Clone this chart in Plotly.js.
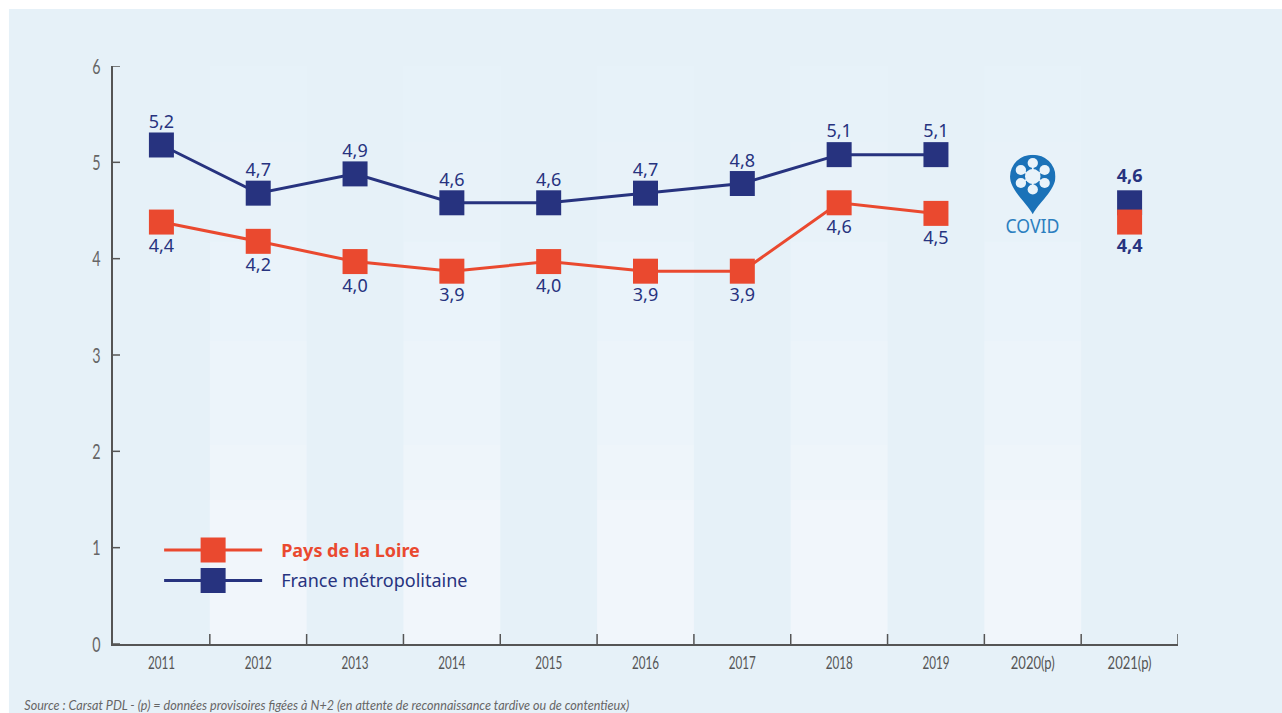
<!DOCTYPE html>
<html><head><meta charset="utf-8">
<script src="https://cdn.plot.ly/plotly-3.0.1.min.js"></script>
<style>html,body{margin:0;padding:0;background:#fff}#c{width:1282px;height:713px}</style>
</head><body><div id="c"></div>
<script>
const categories=['2011','2012','2013','2014','2015','2016','2017','2018','2019','2020(p)','2021(p)'];
const franceValues=[5.18,4.68,4.88,4.58,4.58,4.68,4.78,5.08,5.08,null,4.58];
const loireValues=[4.38,4.18,3.97,3.87,3.97,3.87,3.87,4.58,4.47,null,4.38];
const franceLabels=['5,2','4,7','4,9','4,6','4,6','4,7','4,8','5,1','5,1','','<b>4,6</b>'];
const loireLabels=['4,4','4,2','4,0','3,9','4,0','3,9','3,9','4,6','4,5','','<b>4,4</b>'];
const franceLabelGap=[18,18,18,18,18,18,18,20,20,18,25];
const yTicks=[0,1,2,3,4,5,6];
const xBoundaries=[0.5,1.5,2.5,3.5,4.5,5.5,6.5,7.5,8.5,9.5,10.5];
const bandCategories=[1,3,5,7,9];
const bandSteps=[[0,1.495,'#F1F6FB'],[1.495,2.065,'#EEF5FA'],[2.065,3.145,'#ECF4FA'],[3.145,4.18,'#EAF3FA'],[4.18,5.21,'#E8F2F9'],[5.21,6,'#E7F2F9']];
const NAVY='#27337F',RED='#EA492F',BG='#E6F1F8',AX='#555555';
const FONT='"Noto Sans"',NARROW='Lato';
const shapes=[{type:'rect',xref:'paper',yref:'paper',x0:-0.0977,x1:1.0981,y0:-0.2,y1:1.0985,fillcolor:BG,line:{width:0},layer:'below'}];
bandCategories.forEach(i=>bandSteps.forEach(s=>shapes.push({type:'rect',xref:'x',yref:'y',x0:i-0.5,x1:i+0.5,y0:s[0],y1:s[1],fillcolor:s[2],line:{width:0},layer:'below'})));
xBoundaries.forEach(b=>shapes.push({type:'line',xref:'x',yref:'paper',x0:b,x1:b,y0:0,y1:10/578,line:{color:AX,width:1.5},layer:'above'}));
yTicks.forEach(v=>shapes.push({type:'line',xref:'paper',yref:'y',x0:0,x1:7/1065,y0:v,y1:v,line:{color:AX,width:1.5},layer:'above'}));
const H='#E9F3FA';
const pin='<svg xmlns="http://www.w3.org/2000/svg" viewBox="0 0 44 60"><path d="M22 60 C17 49 0 36 0 22 A22 22 0 0 1 44 22 C44 36 27 49 22 60Z" fill="#1B72B8"/><g fill="'+H+'"><circle cx="22" cy="22" r="7.5"/><circle cx="22" cy="8.5" r="5"/><circle cx="22" cy="35" r="5"/><circle cx="10.5" cy="15.5" r="5"/><circle cx="33.5" cy="15.5" r="5"/><circle cx="10.5" cy="28.5" r="5"/><circle cx="33.5" cy="28.5" r="5"/></g><g stroke="'+H+'" stroke-width="1.6"><path d="M22 10V34M11 16L33 28M33 16L11 28"/></g></svg>';
const mk=(name,vals,color,rank,grp)=>({type:'scatter',mode:'lines+markers',name,x:categories,y:vals,legendrank:rank,legendgroup:grp,
 line:{color,width:3},marker:{symbol:'square',size:25,color,line:{width:0}},hoverinfo:'skip'});
const data=[mk('<span style="color:#27337F">&nbsp;&nbsp;&nbsp;France métropolitaine</span>',franceValues,NAVY,2,'b'),
 mk('<span style="color:#EA492F">&nbsp;&nbsp;&nbsp;<b>Pays de la Loire</b></span>',loireValues,RED,1,'a'),
 {type:'scatter',mode:'markers+text',x:categories,y:franceValues,text:franceLabels,textposition:'top center',textfont:{family:FONT,size:18,color:NAVY},marker:{size:franceLabelGap,opacity:0},showlegend:false,hoverinfo:'skip'},
 {type:'scatter',mode:'markers+text',x:categories,y:loireValues,text:loireLabels,textposition:'bottom center',textfont:{family:FONT,size:18,color:NAVY},marker:{size:25,opacity:0},showlegend:false,hoverinfo:'skip'}];
const layout={width:1282,height:713,autosize:false,margin:{l:113,r:104,t:66,b:69},paper_bgcolor:'#fff',plot_bgcolor:'rgba(0,0,0,0)',
 shapes,showlegend:true,
 legend:{x:0.0433,y:0.194,xanchor:'left',yanchor:'top',bgcolor:'rgba(0,0,0,0)',font:{family:FONT,size:18},itemwidth:98,tracegroupgap:4,itemclick:false,itemdoubleclick:false},
 xaxis:{type:'category',categoryorder:'array',categoryarray:categories,range:[-0.5,10.5],tickson:'boundaries',ticks:'',showline:true,linecolor:AX,linewidth:1.5,showgrid:false,zeroline:false,tickfont:{family:NARROW,size:17,color:'#555'},ticklabelstandoff:3,fixedrange:true},
 yaxis:{range:[0,6],tickvals:yTicks,ticks:'',showline:true,linecolor:AX,linewidth:2,showgrid:false,zeroline:false,ticklabelstandoff:6,tickfont:{family:NARROW,size:22,color:'#666'},fixedrange:true},
 images:[{source:'data:image/svg+xml;utf8,'+encodeURIComponent(pin),xref:'x',yref:'y',x:'2020(p)',y:4.77,sizex:0.47,sizey:0.62,xanchor:'center',yanchor:'middle',sizing:'stretch',layer:'above'}],
 annotations:[
  {xref:'x',yref:'y',x:'2020(p)',y:4.34,text:'COVID',showarrow:false,font:{family:FONT,size:20,color:'#2C7FC0'}},
  {xref:'paper',yref:'paper',x:0.2014,y:-0.1055,xanchor:'center',yanchor:'middle',text:'<i>Source : Carsat PDL - (p) = données provisoires figées à N+2 (en attente de reconnaissance tardive ou de contentieux)</i>',showarrow:false,font:{family:NARROW,size:13,color:'#666'}}
 ]};
const squeeze=(el,target)=>{el.setAttribute('textLength',target);el.setAttribute('lengthAdjust','spacingAndGlyphs');};
Plotly.newPlot('c',data,layout,{displayModeBar:false}).then(()=>{
 document.querySelectorAll('.legend .legendpoints path.scatterpts').forEach(p=>p.setAttribute('d','M12.5,12.5H-12.5V-12.5H12.5Z'));
 document.querySelectorAll('.xtick text').forEach(t=>squeeze(t,t.textContent.includes('(')?44:27));
 document.querySelectorAll('.ytick text').forEach(t=>squeeze(t,t.getComputedTextLength()*0.65));
 document.querySelectorAll('.annotation-text').forEach(t=>{squeeze(t,t.textContent==='COVID'?54:605);});
});
</script></body></html>
